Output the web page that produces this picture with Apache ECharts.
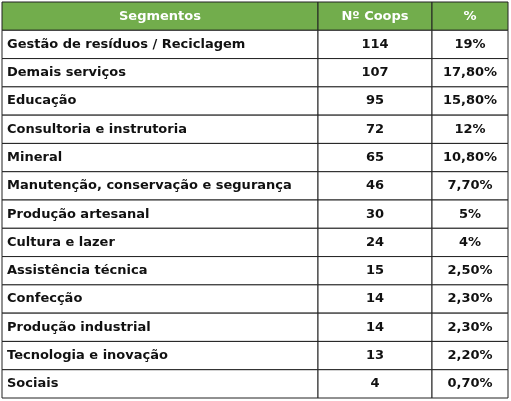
<!DOCTYPE html>
<html><head><meta charset="utf-8">
<script src="https://cdn.jsdelivr.net/npm/echarts@6/dist/echarts.min.js"></script>
<style>html,body{margin:0;padding:0;background:#fff}#c{width:511px;height:401px}</style>
</head><body><div id="c"></div>
<script>
const headers = ['Segmentos', 'Nº Coops', '%'];
const segments = ['Gestão de resíduos / Reciclagem','Demais serviços','Educação','Consultoria e instrutoria','Mineral','Manutenção, conservação e segurança','Produção artesanal','Cultura e lazer','Assistência técnica','Confecção','Produção industrial','Tecnologia e inovação','Sociais'];
const coops = [114,107,95,72,65,46,30,24,15,14,14,13,4];
const percents = ['19%','17,80%','15,80%','12%','10,80%','7,70%','5%','4%','2,50%','2,30%','2,30%','2,20%','0,70%'];

const colEdges = [0, 316, 430, 506];
const rows = ['h'].concat(segments.map((s,i)=>'r'+i));
const cells = [];
for (let c=0;c<3;c++) cells.push([c,0,headers[c]]);
segments.forEach((s,i)=>{
  cells.push([0,i+1,s]); cells.push([1,i+1,String(coops[i])]); cells.push([2,i+1,percents[i]]);
});
const chart = echarts.init(document.getElementById('c'));
chart.setOption({
  animation:false,
  grid:{left:2,right:3,top:2,bottom:3},
  xAxis:{type:'value',min:0,max:506,show:false},
  yAxis:{type:'category',data:rows,inverse:true,show:false},
  series:[{
    type:'custom',
    data:cells,
    renderItem:function(params,api){
      const c=api.value(0), r=api.value(1), txt=cells[params.dataIndex][2];
      const h=api.size([0,1])[1];
      const p0=api.coord([colEdges[c], r]), p1=api.coord([colEdges[c+1], r]);
      const x=p0[0], y=p0[1]-h/2, w=p1[0]-p0[0];
      const head = r===0;
      return {type:'group',children:[
        {type:'rect',shape:{x:x,y:y,width:w,height:h},
         style:{fill:head?'#72ad4c':'#ffffff',stroke:'#222',lineWidth:1}},
        {type:'text',style:{text:txt,x:(c===0&&!head)?x+5:x+w/2,y:y+h/2,
          align:(c===0&&!head)?'left':'center',verticalAlign:'middle',
          fill:head?'#ffffff':'#111',font:'bold 13px "DejaVu Sans", Verdana, sans-serif'}}
      ]};
    }
  }]
});
</script></body></html>
